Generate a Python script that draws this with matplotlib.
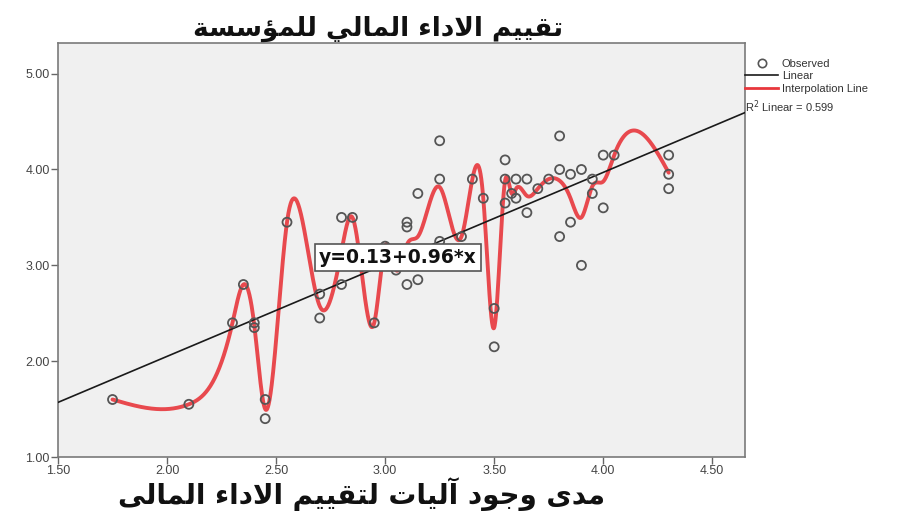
import numpy as np
import matplotlib
matplotlib.use("Agg")
import matplotlib.pyplot as plt
from matplotlib.lines import Line2D

# ---------------- data ----------------
x_obs = [1.75, 2.10, 2.30, 2.35, 2.40, 2.40, 2.45, 2.45, 2.55, 2.70, 2.70,
         2.80, 2.80, 2.85, 2.95, 3.00, 3.05, 3.10, 3.10, 3.10, 3.15, 3.15,
         3.25, 3.25, 3.25, 3.35, 3.40, 3.45, 3.50, 3.50, 3.55, 3.55, 3.55,
         3.58, 3.60, 3.60, 3.65, 3.65, 3.70, 3.75, 3.80, 3.80, 3.80, 3.85,
         3.85, 3.90, 3.90, 3.95, 3.95, 4.00, 4.00, 4.05, 4.30, 4.30, 4.30]
y_obs = [1.60, 1.55, 2.40, 2.80, 2.40, 2.35, 1.60, 1.40, 3.45, 2.70, 2.45,
         3.50, 2.80, 3.50, 2.40, 3.20, 2.95, 3.45, 3.40, 2.80, 3.75, 2.85,
         4.30, 3.90, 3.25, 3.30, 3.90, 3.70, 2.55, 2.15, 4.10, 3.90, 3.65,
         3.75, 3.90, 3.70, 3.90, 3.55, 3.80, 3.90, 4.35, 4.00, 3.30, 3.95,
         3.45, 4.00, 3.00, 3.90, 3.75, 4.15, 3.60, 4.15, 4.15, 3.95, 3.80]

intercept = 0.13
slope = 0.96
r2_linear = 0.599

x_ticks = [1.50, 2.00, 2.50, 3.00, 3.50, 4.00, 4.50]
y_ticks = [1.00, 2.00, 3.00, 4.00, 5.00]

title_text = "تقييم الاداء المالي للمؤسسة"
xlabel_text = "مدى وجود آليات لتقييم الاداء المالى"
equation_text = "y=0.13+0.96*x"

# ---------------- Arabic shaping (presentation forms + RTL) ----------------
FORMS = {
    '\u0621': ('\uFE80', None, None, None),
    '\u0622': ('\uFE81', '\uFE82', None, None),
    '\u0624': ('\uFE85', '\uFE86', None, None),
    '\u0627': ('\uFE8D', '\uFE8E', None, None),
    '\u0629': ('\uFE93', '\uFE94', None, None),
    '\u062A': ('\uFE95', '\uFE96', '\uFE97', '\uFE98'),
    '\u062C': ('\uFE9D', '\uFE9E', '\uFE9F', '\uFEA0'),
    '\u062F': ('\uFEA9', '\uFEAA', None, None),
    '\u0633': ('\uFEB1', '\uFEB2', '\uFEB3', '\uFEB4'),
    '\u0642': ('\uFED5', '\uFED6', '\uFED7', '\uFED8'),
    '\u0644': ('\uFEDD', '\uFEDE', '\uFEDF', '\uFEE0'),
    '\u0645': ('\uFEE1', '\uFEE2', '\uFEE3', '\uFEE4'),
    '\u0648': ('\uFEED', '\uFEEE', None, None),
    '\u0649': ('\uFEEF', '\uFEF0', None, None),
    '\u064A': ('\uFEF1', '\uFEF2', '\uFEF3', '\uFEF4'),
}
LAM_ALEF = {'\u0627': ('\uFEFB', '\uFEFC', None, None),
            '\u0622': ('\uFEF5', '\uFEF6', None, None)}


def shape_arabic(text):
    tokens = []
    i = 0
    while i < len(text):
        c = text[i]
        if c == '\u0644' and i + 1 < len(text) and text[i + 1] in LAM_ALEF:
            tokens.append(LAM_ALEF[text[i + 1]])
            i += 2
            continue
        tokens.append(FORMS.get(c, (c, None, None, None)))
        i += 1
    out = []
    for k, f in enumerate(tokens):
        prev = tokens[k - 1] if k > 0 else None
        nxt = tokens[k + 1] if k + 1 < len(tokens) else None
        jp = prev is not None and prev[2] is not None and f[1] is not None
        jn = f[2] is not None and nxt is not None and nxt[1] is not None
        if jp and jn:
            out.append(f[3])
        elif jp:
            out.append(f[1])
        elif jn:
            out.append(f[2])
        else:
            out.append(f[0])
    return ''.join(out)[::-1]


# ---------------- natural cubic spline through x-means ----------------
def natural_spline(xk, yk, xs):
    xk = np.asarray(xk, float)
    yk = np.asarray(yk, float)
    n = len(xk)
    h = np.diff(xk)
    A = np.zeros((n, n))
    b = np.zeros(n)
    A[0, 0] = 1
    A[-1, -1] = 1
    for i in range(1, n - 1):
        A[i, i - 1] = h[i - 1]
        A[i, i] = 2 * (h[i - 1] + h[i])
        A[i, i + 1] = h[i]
        b[i] = 3 * ((yk[i + 1] - yk[i]) / h[i] - (yk[i] - yk[i - 1]) / h[i - 1])
    c = np.linalg.solve(A, b)
    bb = (np.diff(yk) / h) - h * (2 * c[:-1] + c[1:]) / 3
    d = np.diff(c) / (3 * h)
    idx = np.clip(np.searchsorted(xk, xs) - 1, 0, n - 2)
    dx = xs - xk[idx]
    return yk[idx] + bb[idx] * dx + c[idx] * dx ** 2 + d[idx] * dx ** 3


xa = np.array(x_obs)
ya = np.array(y_obs)
ux = np.unique(xa)
uy = np.array([ya[xa == v].mean() for v in ux])
xs = np.linspace(ux[0], ux[-1], 1500)
ys = natural_spline(ux, uy, xs)

# ---------------- figure ----------------
plt.rcParams['font.family'] = ['Liberation Sans', 'DejaVu Sans']
fig = plt.figure(figsize=(9.10, 5.14), dpi=100)
ax = fig.add_axes([58 / 910, 1 - 457 / 514, (745 - 58) / 910, (457 - 43) / 514])
ax.set_facecolor('#F0F0F0')
ax.set_xlim(1.5, 4.65)
ax.set_ylim(1.0, 5.32)

xl = np.array(ax.get_xlim())
line_lin, = ax.plot(xl, intercept + slope * xl, color='#1a1a1a', lw=1.2, zorder=3)
line_int, = ax.plot(xs, ys, color='#E8373C', lw=2.8, alpha=0.9, zorder=2,
                    solid_capstyle='round')
pts = ax.scatter(x_obs, y_obs, s=42, facecolors='none', edgecolors='#555555',
                 linewidths=1.3, zorder=4)

ax.set_xticks(x_ticks)
ax.set_xticklabels([f"{v:.2f}" for v in x_ticks])
ax.set_yticks(y_ticks)
ax.set_yticklabels([f"{v:.2f}" for v in y_ticks])
ax.tick_params(direction='out', length=5, width=1, color='#666666',
               labelsize=9, labelcolor='#444444', pad=1)
for s in ax.spines.values():
    s.set_color('#7a7a7a')
    s.set_linewidth(1.2)

ax.text(0.495, 0.481, equation_text, transform=ax.transAxes, ha='center',
        va='center', fontsize=13.5, fontweight='bold', color='#111111',
        family=['DejaVu Sans'], zorder=6,
        bbox=dict(boxstyle='square,pad=0.22', fc='white', ec='#555555', lw=1.2))

# legend
h_obs = Line2D([], [], ls='none', marker='o', mfc='none', mec='#555555', ms=6, mew=1.2)
h_lin = Line2D([], [], color='#1a1a1a', lw=1.2)
h_int = Line2D([], [], color='#E8373C', lw=2)
leg = ax.legend([h_obs, h_lin, h_int], ['Observed', 'Linear', 'Interpolation Line'],
                loc='upper left', bbox_to_anchor=(1.0, 0.962), frameon=False,
                fontsize=8, handlelength=3.0, handletextpad=0.3,
                labelspacing=0.22, borderaxespad=0, borderpad=0.0)
for t in leg.get_texts():
    t.set_color('#333333')
ax.text(1.0, 0.845, "R$^2$ Linear = 0.599", transform=ax.transAxes,
        fontsize=8, color='#333333', ha='left', va='center')

# Arabic texts
fig.text(378 / 910, 1 - 29 / 514, shape_arabic(title_text), ha='center', va='center',
         fontsize=19, fontweight='bold', family=['DejaVu Sans'], color='#111111')
fig.text(362 / 910, 1 - 494 / 514, shape_arabic(xlabel_text), ha='center', va='center',
         fontsize=20, fontweight='bold', family=['DejaVu Sans'], color='#111111')

fig.savefig('out.png', dpi=100, facecolor='white')
